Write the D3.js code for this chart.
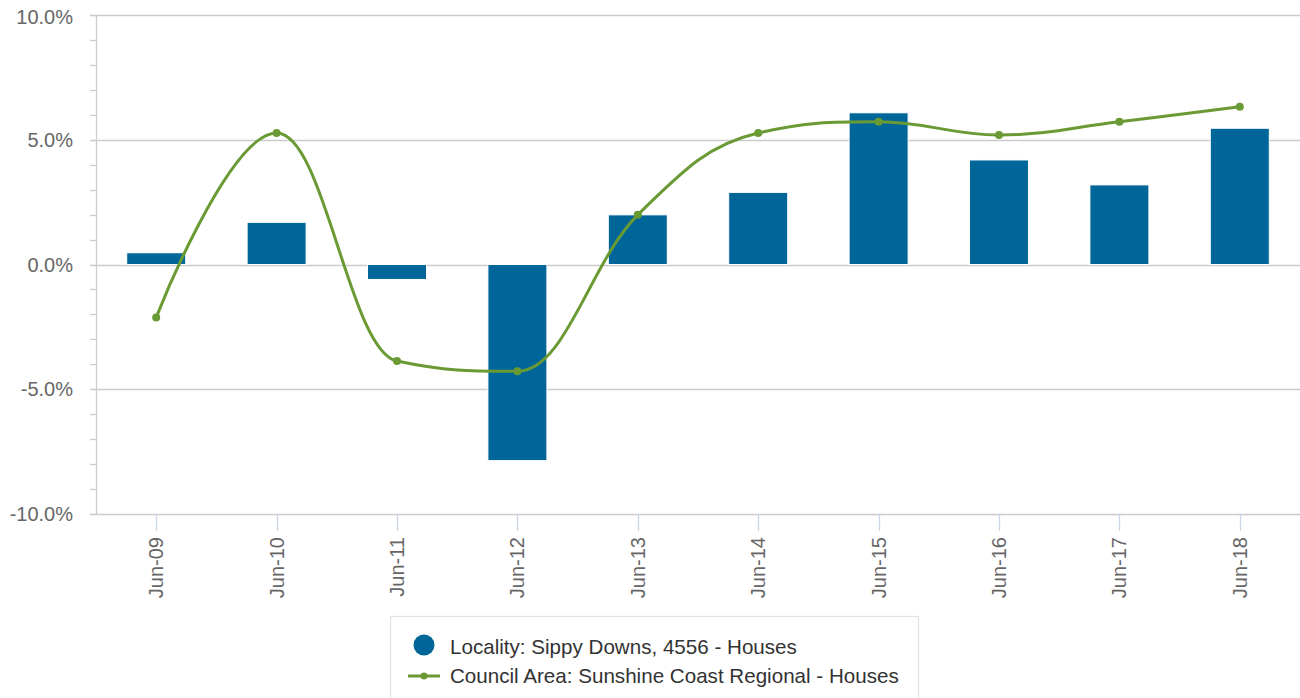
<!DOCTYPE html>
<html>
<head>
<meta charset="utf-8">
<script src="https://cdn.jsdelivr.net/npm/d3@7"></script>
<style>
  html, body { margin: 0; padding: 0; background: #fff; }
  svg { display: block; font-family: "Liberation Sans", Arial, Helvetica, sans-serif; }
</style>
</head>
<body>
<svg id="chart" width="1300" height="698"></svg>
<script>
// Annual change, houses
const categories = ["Jun-09", "Jun-10", "Jun-11", "Jun-12", "Jun-13", "Jun-14", "Jun-15", "Jun-16", "Jun-17", "Jun-18"];
const localityValues = [0.47, 1.69, -0.6, -7.86, 1.99, 2.89, 6.08, 4.19, 3.19, 5.46];
const councilValues = [-2.12, 5.27, -3.87, -4.28, 1.99, 5.27, 5.72, 5.19, 5.72, 6.32];
const yTicks = [-10, -5, 0, 5, 10];
const yMinorTicks = d3.range(-10, 10.001, 1);
const seriesNames = ["Locality: Sippy Downs, 4556 - Houses", "Council Area: Sunshine Coast Regional - Houses"];

const barColor = "#006699";
const lineColor = "#6a9a34";

const svg = d3.select("#chart");
const plot = { left: 96, right: 1300, top: 15, bottom: 514 };

const x = d3.scaleBand().domain(categories).range([plot.left, plot.right]).paddingInner(0).paddingOuter(0);
const y = d3.scaleLinear().domain([-10, 10]).range([plot.bottom, plot.top]);
const cx = d => x(d) + x.bandwidth() / 2;
const pct = d => d.toFixed(1) + "%";

// grid lines
svg.append("g").selectAll("line").data(yTicks).join("line")
  .attr("x1", plot.left - 6).attr("x2", plot.right)
  .attr("y1", d => Math.round(y(d)) + 0.5).attr("y2", d => Math.round(y(d)) + 0.5)
  .attr("stroke", "#cccccc").attr("stroke-width", 1.3);

// y axis line with minor ticks
svg.append("line")
  .attr("x1", plot.left + 0.5).attr("x2", plot.left + 0.5)
  .attr("y1", plot.top).attr("y2", plot.bottom)
  .attr("stroke", "#cccccc").attr("stroke-width", 1.3);
svg.append("g").selectAll("line").data(yMinorTicks).join("line")
  .attr("x1", plot.left - 6).attr("x2", plot.left)
  .attr("y1", d => Math.round(y(d)) + 0.5).attr("y2", d => Math.round(y(d)) + 0.5)
  .attr("stroke", "#cccccc").attr("stroke-width", 1.3);

// y labels
svg.append("g").selectAll("text").data(yTicks).join("text")
  .attr("x", 73).attr("y", d => y(d) + (d === 10 ? 9 : 7))
  .attr("text-anchor", "end")
  .attr("font-size", 20).attr("fill", "#666666")
  .text(pct);

// x ticks
svg.append("g").selectAll("line").data(categories).join("line")
  .attr("x1", d => Math.round(cx(d)) + 0.5).attr("x2", d => Math.round(cx(d)) + 0.5)
  .attr("y1", plot.bottom).attr("y2", plot.bottom + 17)
  .attr("stroke", "#ccd6eb").attr("stroke-width", 1.3);

// x labels, rotated
svg.append("g").selectAll("text").data(categories).join("text")
  .attr("transform", d => `translate(${cx(d) + 7},${plot.bottom + 23}) rotate(-90)`)
  .attr("text-anchor", "end")
  .attr("font-size", 20).attr("fill", "#666666")
  .text(d => d);

// bars
const barW = 59;
svg.append("g").selectAll("rect").data(categories).join("rect")
  .attr("x", d => cx(d) - barW / 2)
  .attr("width", barW)
  .attr("y", (d, i) => y(Math.max(0, localityValues[i])))
  .attr("height", (d, i) => Math.abs(y(localityValues[i]) - y(0)))
  .attr("fill", barColor)
  .attr("stroke", "#ffffff").attr("stroke-width", 1);

// smooth spline through the council points
function splinePath(pts) {
  const smoothing = 1.5, denom = smoothing + 1;
  const p = d3.path();
  let prevRight = null;
  pts.forEach((pt, i) => {
    if (i === 0) { p.moveTo(pt[0], pt[1]); return; }
    const last = pts[i - 1], next = pts[i + 1];
    let lcx = pt[0], lcy = pt[1], rc = null;
    if (next) {
      lcx = (smoothing * pt[0] + last[0]) / denom;
      lcy = (smoothing * pt[1] + last[1]) / denom;
      const rcx = (smoothing * pt[0] + next[0]) / denom;
      let rcy = (smoothing * pt[1] + next[1]) / denom;
      const corr = ((rcy - lcy) * (rcx - pt[0])) / (rcx - lcx) + pt[1] - rcy;
      lcy += corr; rcy += corr;
      if (lcy > last[1] && lcy > pt[1]) { lcy = Math.max(last[1], pt[1]); rcy = 2 * pt[1] - lcy; }
      else if (lcy < last[1] && lcy < pt[1]) { lcy = Math.min(last[1], pt[1]); rcy = 2 * pt[1] - lcy; }
      if (rcy > next[1] && rcy > pt[1]) { rcy = Math.max(next[1], pt[1]); lcy = 2 * pt[1] - rcy; }
      else if (rcy < next[1] && rcy < pt[1]) { rcy = Math.min(next[1], pt[1]); lcy = 2 * pt[1] - rcy; }
      rc = [rcx, rcy];
    }
    const c1 = prevRight || last;
    p.bezierCurveTo(c1[0], c1[1], lcx, lcy, pt[0], pt[1]);
    prevRight = rc;
  });
  return p.toString();
}

const linePts = categories.map((c, i) => [cx(c), y(councilValues[i])]);
svg.append("path")
  .attr("d", splinePath(linePts))
  .attr("fill", "none").attr("stroke", lineColor)
  .attr("stroke-width", 3).attr("stroke-linejoin", "round").attr("stroke-linecap", "round");

svg.append("g").selectAll("circle").data(categories).join("circle")
  .attr("cx", d => cx(d))
  .attr("cy", (d, i) => y(councilValues[i]))
  .attr("r", 4)
  .attr("fill", lineColor);

// legend
const legend = svg.append("g");
legend.append("rect")
  .attr("x", 390.5).attr("y", 616.5).attr("width", 528).attr("height", 100)
  .attr("fill", "#ffffff").attr("stroke", "#e3e3e3").attr("stroke-width", 1.3);
legend.append("circle").attr("cx", 424).attr("cy", 645).attr("r", 10.5).attr("fill", barColor);
legend.append("text").attr("x", 450).attr("y", 654).attr("font-size", 20.6).attr("fill", "#333333").text(seriesNames[0]);
legend.append("line").attr("x1", 408).attr("x2", 440).attr("y1", 676).attr("y2", 676)
  .attr("stroke", lineColor).attr("stroke-width", 3);
legend.append("circle").attr("cx", 424).attr("cy", 676).attr("r", 3.5).attr("fill", lineColor);
legend.append("text").attr("x", 450).attr("y", 683).attr("font-size", 20.6).attr("fill", "#333333").text(seriesNames[1]);
</script>
</body>
</html>
